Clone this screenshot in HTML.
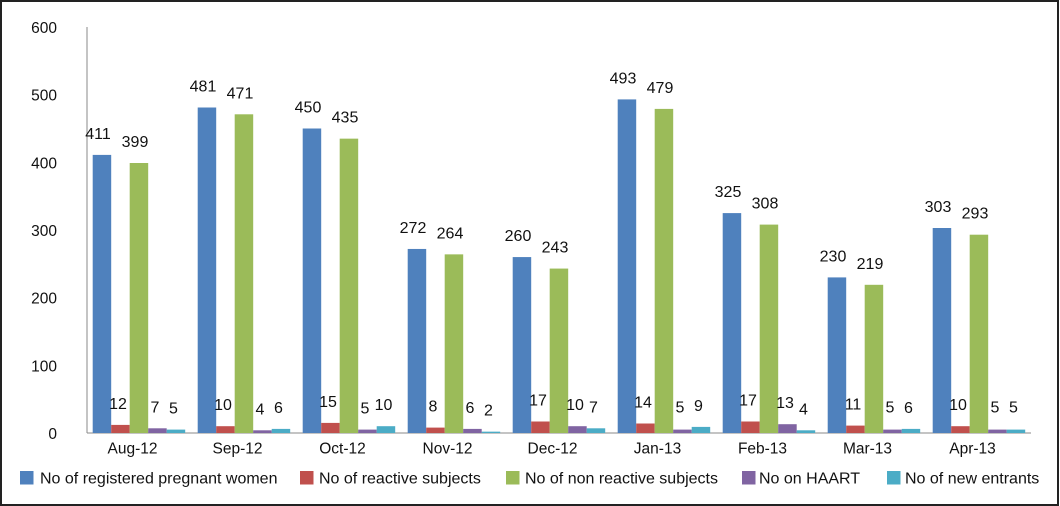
<!DOCTYPE html>
<html><head><meta charset="utf-8"><style>
html,body{margin:0;padding:0;background:#fff;}
.wrap{position:relative;width:1060px;height:506px;overflow:hidden;}
svg{position:absolute;left:0;top:0;}
text{font-family:"Liberation Sans",Arial,sans-serif;fill:#111;}
.v{font-size:16px;text-anchor:middle;}
.t{font-size:15.5px;text-anchor:end;}
.c{font-size:15.5px;text-anchor:middle;}
.l{font-size:16px;}
</style></head><body><div class="wrap">
<svg width="1060" height="506" viewBox="0 0 1060 506" xmlns="http://www.w3.org/2000/svg">
<rect x="1" y="1" width="1057" height="504" fill="#fff" stroke="#222" stroke-width="2"/>
<!-- axes -->
<line x1="87" y1="27" x2="87" y2="433" stroke="#8a8a8a" stroke-width="1"/>
<line x1="87" y1="433" x2="1031" y2="433" stroke="#8a8a8a" stroke-width="1"/>
<!-- y ticks -->
<text class="t" x="57" y="33">600</text>
<text class="t" x="57" y="100.7">500</text>
<text class="t" x="57" y="168.3">400</text>
<text class="t" x="57" y="236">300</text>
<text class="t" x="57" y="303.7">200</text>
<text class="t" x="57" y="371.3">100</text>
<text class="t" x="57" y="439">0</text>

<!-- Aug-12 -->
<g transform="translate(0,0)">
<rect x="92.7" y="154.9" width="18.5" height="278.1" fill="#4F81BD"/>
<rect x="111.2" y="424.9" width="18.5" height="8.1" fill="#C0504D"/>
<rect x="129.7" y="163" width="18.5" height="270" fill="#9BBB59"/>
<rect x="148.2" y="428.3" width="18.5" height="4.7" fill="#8064A2"/>
<rect x="166.7" y="429.6" width="18.5" height="3.4" fill="#4BACC6"/>
<text class="v" x="98" y="138.9">411</text>
<text class="v" x="118" y="408.9">12</text>
<text class="v" x="135" y="147">399</text>
<text class="v" x="155" y="412.3">7</text>
<text class="v" x="173.5" y="413.6">5</text>
</g>
<!-- Sep-12 -->
<g transform="translate(105,0)">
<rect x="92.7" y="107.5" width="18.5" height="325.5" fill="#4F81BD"/>
<rect x="111.2" y="426.2" width="18.5" height="6.8" fill="#C0504D"/>
<rect x="129.7" y="114.3" width="18.5" height="318.7" fill="#9BBB59"/>
<rect x="148.2" y="430.3" width="18.5" height="2.7" fill="#8064A2"/>
<rect x="166.7" y="428.9" width="18.5" height="4.1" fill="#4BACC6"/>
<text class="v" x="98" y="91.5">481</text>
<text class="v" x="118" y="410.2">10</text>
<text class="v" x="135" y="98.3">471</text>
<text class="v" x="155" y="414.3">4</text>
<text class="v" x="173.5" y="412.9">6</text>
</g>
<!-- Oct-12 -->
<g transform="translate(210,0)">
<rect x="92.7" y="128.5" width="18.5" height="304.5" fill="#4F81BD"/>
<rect x="111.2" y="422.9" width="18.5" height="10.1" fill="#C0504D"/>
<rect x="129.7" y="138.65" width="18.5" height="294.35" fill="#9BBB59"/>
<rect x="148.2" y="429.6" width="18.5" height="3.4" fill="#8064A2"/>
<rect x="166.7" y="426.2" width="18.5" height="6.8" fill="#4BACC6"/>
<text class="v" x="98" y="112.5">450</text>
<text class="v" x="118" y="406.9">15</text>
<text class="v" x="135" y="122.6">435</text>
<text class="v" x="155" y="413.6">5</text>
<text class="v" x="173.5" y="410.2">10</text>
</g>
<!-- Nov-12 -->
<g transform="translate(315,0)">
<rect x="92.7" y="248.95" width="18.5" height="184.05" fill="#4F81BD"/>
<rect x="111.2" y="427.6" width="18.5" height="5.4" fill="#C0504D"/>
<rect x="129.7" y="254.36" width="18.5" height="178.64" fill="#9BBB59"/>
<rect x="148.2" y="428.9" width="18.5" height="4.1" fill="#8064A2"/>
<rect x="166.7" y="431.65" width="18.5" height="1.35" fill="#4BACC6"/>
<text class="v" x="98" y="232.9">272</text>
<text class="v" x="118" y="411.6">8</text>
<text class="v" x="135" y="238.4">264</text>
<text class="v" x="155" y="412.9">6</text>
<text class="v" x="173.5" y="415.6">2</text>
</g>
<!-- Dec-12 -->
<g transform="translate(420,0)">
<rect x="92.7" y="257.07" width="18.5" height="175.93" fill="#4F81BD"/>
<rect x="111.2" y="421.5" width="18.5" height="11.5" fill="#C0504D"/>
<rect x="129.7" y="268.57" width="18.5" height="164.43" fill="#9BBB59"/>
<rect x="148.2" y="426.2" width="18.5" height="6.8" fill="#8064A2"/>
<rect x="166.7" y="428.3" width="18.5" height="4.7" fill="#4BACC6"/>
<text class="v" x="98" y="241.1">260</text>
<text class="v" x="118" y="405.5">17</text>
<text class="v" x="135" y="252.6">243</text>
<text class="v" x="155" y="410.2">10</text>
<text class="v" x="173.5" y="412.3">7</text>
</g>
<!-- Jan-13 -->
<g transform="translate(525,0)">
<rect x="92.7" y="99.4" width="18.5" height="333.6" fill="#4F81BD"/>
<rect x="111.2" y="423.5" width="18.5" height="9.5" fill="#C0504D"/>
<rect x="129.7" y="108.9" width="18.5" height="324.1" fill="#9BBB59"/>
<rect x="148.2" y="429.6" width="18.5" height="3.4" fill="#8064A2"/>
<rect x="166.7" y="426.9" width="18.5" height="6.1" fill="#4BACC6"/>
<text class="v" x="98" y="83.4">493</text>
<text class="v" x="118" y="407.5">14</text>
<text class="v" x="135" y="92.9">479</text>
<text class="v" x="155" y="412.6">5</text>
<text class="v" x="173.5" y="410.9">9</text>
</g>
<!-- Feb-13 -->
<g transform="translate(630,0)">
<rect x="92.7" y="213.1" width="18.5" height="219.9" fill="#4F81BD"/>
<rect x="111.2" y="421.5" width="18.5" height="11.5" fill="#C0504D"/>
<rect x="129.7" y="224.6" width="18.5" height="208.4" fill="#9BBB59"/>
<rect x="148.2" y="424.2" width="18.5" height="8.8" fill="#8064A2"/>
<rect x="166.7" y="430.3" width="18.5" height="2.7" fill="#4BACC6"/>
<text class="v" x="98" y="197.1">325</text>
<text class="v" x="118" y="405.5">17</text>
<text class="v" x="135" y="208.6">308</text>
<text class="v" x="155" y="408.2">13</text>
<text class="v" x="173.5" y="414.3">4</text>
</g>
<!-- Mar-13 -->
<g transform="translate(735,0)">
<rect x="92.7" y="277.4" width="18.5" height="155.6" fill="#4F81BD"/>
<rect x="111.2" y="425.6" width="18.5" height="7.4" fill="#C0504D"/>
<rect x="129.7" y="284.8" width="18.5" height="148.2" fill="#9BBB59"/>
<rect x="148.2" y="429.6" width="18.5" height="3.4" fill="#8064A2"/>
<rect x="166.7" y="428.9" width="18.5" height="4.1" fill="#4BACC6"/>
<text class="v" x="98" y="261.4">230</text>
<text class="v" x="118" y="409.6">11</text>
<text class="v" x="135" y="268.8">219</text>
<text class="v" x="155" y="412.6">5</text>
<text class="v" x="173.5" y="412.9">6</text>
</g>
<!-- Apr-13 -->
<g transform="translate(840,0)">
<rect x="92.7" y="228" width="18.5" height="205" fill="#4F81BD"/>
<rect x="111.2" y="426.2" width="18.5" height="6.8" fill="#C0504D"/>
<rect x="129.7" y="234.7" width="18.5" height="198.3" fill="#9BBB59"/>
<rect x="148.2" y="429.6" width="18.5" height="3.4" fill="#8064A2"/>
<rect x="166.7" y="429.6" width="18.5" height="3.4" fill="#4BACC6"/>
<text class="v" x="98" y="212">303</text>
<text class="v" x="118" y="410.2">10</text>
<text class="v" x="135" y="218.7">293</text>
<text class="v" x="155" y="412.6">5</text>
<text class="v" x="173.5" y="412.6">5</text>
</g>

<!-- category labels -->
<text class="c" x="132.5" y="453.5">Aug-12</text>
<text class="c" x="237.5" y="453.5">Sep-12</text>
<text class="c" x="342.5" y="453.5">Oct-12</text>
<text class="c" x="447.5" y="453.5">Nov-12</text>
<text class="c" x="552.5" y="453.5">Dec-12</text>
<text class="c" x="657.5" y="453.5">Jan-13</text>
<text class="c" x="762.5" y="453.5">Feb-13</text>
<text class="c" x="867.5" y="453.5">Mar-13</text>
<text class="c" x="972.5" y="453.5">Apr-13</text>

<!-- legend -->
<rect x="20" y="471" width="13.5" height="13.5" fill="#4F81BD"/>
<text class="l" x="40" y="483.5">No of registered pregnant women</text>
<rect x="300" y="471" width="13.5" height="13.5" fill="#C0504D"/>
<text class="l" x="319" y="483.5">No of reactive subjects</text>
<rect x="506" y="471" width="13.5" height="13.5" fill="#9BBB59"/>
<text class="l" x="525" y="483.5">No of non reactive subjects</text>
<rect x="742" y="471" width="13.5" height="13.5" fill="#8064A2"/>
<text class="l" x="759" y="483.5">No on HAART</text>
<rect x="887" y="471" width="13.5" height="13.5" fill="#4BACC6"/>
<text class="l" x="905" y="483.5">No of new entrants</text>
</svg>
</div></body></html>
